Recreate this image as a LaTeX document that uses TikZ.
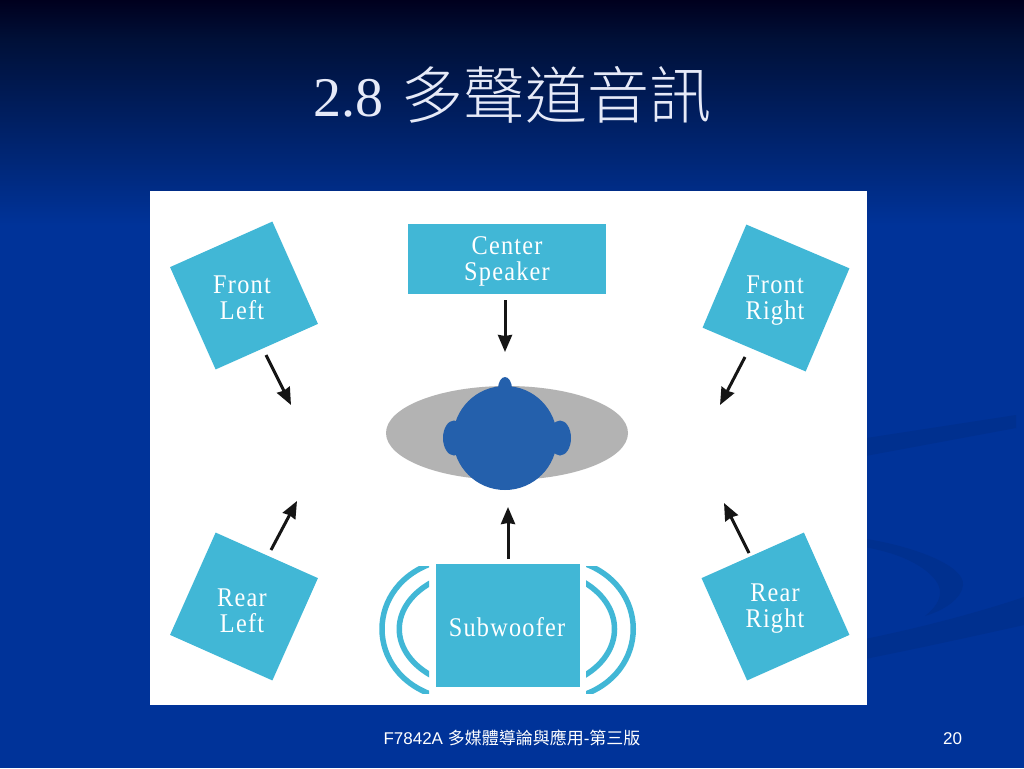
\documentclass[tikz,border=0pt]{standalone}
\usepackage{fontspec}
\setmainfont{Liberation Serif}
\newfontfamily\cjkfont{Noto Sans CJK TC}
\newfontfamily\cjktitle{Noto Sans CJK TC Light}
\newfontfamily\footfont{Liberation Sans}
\newfontfamily\labfont[LetterSpace=4.5,FakeStretch=0.9]{Liberation Serif}
\usetikzlibrary{arrows.meta,shapes.geometric}
\definecolor{spk}{HTML}{41B7D6}
\definecolor{headblue}{HTML}{2460AC}
\definecolor{bggray}{HTML}{B3B3B3}
\definecolor{bgblue}{HTML}{003399}
\definecolor{swoosh}{HTML}{00308F}
\definecolor{titlecol}{HTML}{E6EAF8}
\definecolor{arrowcol}{HTML}{151515}
\definecolor{topa}{HTML}{00001E}
\definecolor{topb}{HTML}{001038}
\tikzset{
  speaker/.style={fill=spk,draw=none,rectangle,minimum size=112pt,inner sep=0pt},
  boxspk/.style={fill=spk,draw=none,rectangle,inner sep=0pt},
  spklabel/.style={text=white,align=center,font=\labfont\fontsize{27}{26}\selectfont,inner sep=0pt},
  flow/.style={draw=arrowcol,line width=3pt,-{Stealth[length=17pt,width=14pt,inset=1pt]}},
  wave/.style={draw=spk,line width=5.5pt},
  headpart/.style={fill=headblue,draw=none}
}
\begin{document}
\begin{tikzpicture}[x=1pt,y=-1pt]
\useasboundingbox (0,0) rectangle (1024,768);
% background
\fill[bgblue] (0,0) rectangle (1024,768);
\shade[top color=topa,bottom color=topb] (0,0) rectangle (1024,40);
\shade[top color=topb,bottom color=bgblue] (0,40) rectangle (1024,225);
\fill[swoosh] (860,439) -- (1016,415) -- (1016,428) -- (860,457) -- cycle;
\fill[swoosh] (860,640) .. controls (920,628) and (980,612) .. (1024,597) -- (1024,625) .. controls (970,637) and (920,648) .. (860,660) -- cycle;
\fill[swoosh] (860,538) .. controls (910,545) and (965,565) .. (963,585) .. controls (962,598) and (945,610) .. (925,616) .. controls (945,600) and (945,585) .. (925,570) .. controls (905,555) and (880,550) .. (860,546) -- cycle;
% panel
\fill[white] (150,191) rectangle (867,705);
% listener
\node[fill=bggray,draw=none,ellipse,minimum width=242pt,minimum height=94pt,inner sep=0pt] (floor) at (507,433) {};
\node[headpart,circle,minimum size=104pt,inner sep=0pt] (head) at (505,438) {};
\node[headpart,ellipse,minimum width=14pt,minimum height=24pt,inner sep=0pt] (nose) at (505,389) {};
\node[headpart,ellipse,minimum width=22pt,minimum height=35pt,inner sep=0pt] (earl) at (454,438) {};
\node[headpart,ellipse,minimum width=22pt,minimum height=35pt,inner sep=0pt] (earr) at (560,438) {};
% speakers
\node[speaker,rotate=24] (fl) at (244,295.5) {};
\node[speaker,rotate=-23] (fr) at (776,298) {};
\node[speaker,rotate=-24] (rl) at (244,606.5) {};
\node[speaker,rotate=24] (rr) at (775.5,606.5) {};
\node[boxspk,minimum width=198pt,minimum height=70pt] (cs) at (506.5,258.5) {};
\node[boxspk,minimum width=144pt,minimum height=123pt] (sw) at (508,625.5) {};
\node[spklabel] (tfl) at (242,298) {Front\\Left};
\node[spklabel] (tfr) at (775,301) {Front\\Right};
\node[spklabel] (trl) at (242,611) {Rear\\Left};
\node[spklabel] (trr) at (775,609) {Rear\\Right};
\node[spklabel] (tcs) at (507,261.5) {Center\\Speaker};
\node[spklabel] (tsw) at (507,627) {Subwoofer};
% sound waves
\begin{scope}
\clip (370,566) rectangle (429,693);
\draw[wave] (436,562) .. controls (364,584) and (364,674) .. (436,696);
\draw[wave] (436,580) .. controls (387,604) and (387,654) .. (436,678);
\end{scope}
\begin{scope}
\clip (586,566) rectangle (645,693);
\draw[wave] (580,562) .. controls (651,584) and (651,674) .. (580,696);
\draw[wave] (580,580) .. controls (626,604) and (626,654) .. (580,678);
\end{scope}
% arrows
\coordinate (a1) at (266,355); \coordinate (b1) at (291,405);
\coordinate (a2) at (505,300); \coordinate (b2) at (505,352);
\coordinate (a3) at (745,357); \coordinate (b3) at (720,405);
\coordinate (a4) at (271,550); \coordinate (b4) at (297,501);
\coordinate (a5) at (508,559); \coordinate (b5) at (508,507);
\coordinate (a6) at (749,553); \coordinate (b6) at (724,503);
\draw[flow] (a1) -- (b1);
\draw[flow] (a2) -- (b2);
\draw[flow] (a3) -- (b3);
\draw[flow] (a4) -- (b4);
\draw[flow] (a5) -- (b5);
\draw[flow] (a6) -- (b6);
% title and footer
\node[text=titlecol,inner sep=0pt,anchor=base west] (title) at (313,116) {\fontsize{56}{60}\selectfont 2.8\hspace{18pt}\raisebox{-2.5pt}{\cjktitle\fontsize{62}{60}\selectfont 多聲道音訊}};
\node[text=white,inner sep=0pt,anchor=base] (foot) at (512,744) {\footfont\fontsize{17}{17}\selectfont F7842A {\cjkfont 多媒體導論與應用}-{\cjkfont 第三版}};
\node[text=white,inner sep=0pt,anchor=base] (page) at (952.5,744) {\footfont\fontsize{17}{17}\selectfont 20};
\end{tikzpicture}
\end{document}
